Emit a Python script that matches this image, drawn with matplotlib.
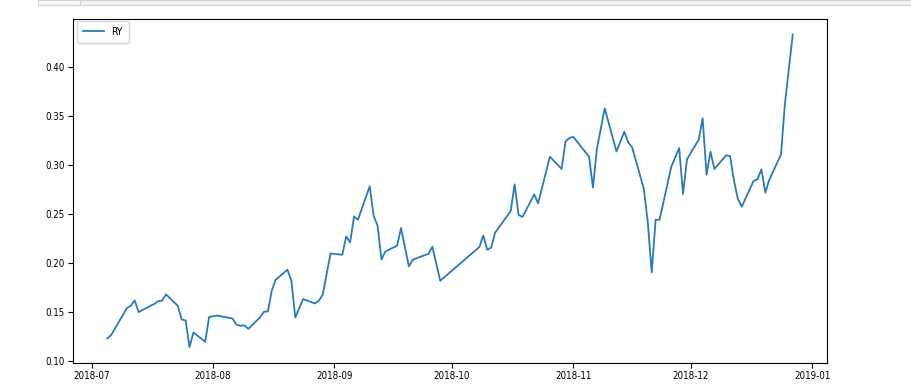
import matplotlib
matplotlib.use("Agg")
import matplotlib.pyplot as plt
import matplotlib.dates as mdates
from matplotlib.patches import Rectangle
import pandas as pd

dates = [
    "2018-07-05", "2018-07-06", "2018-07-10", "2018-07-11", "2018-07-12", "2018-07-13",
    "2018-07-16", "2018-07-17", "2018-07-18", "2018-07-19", "2018-07-20",
    "2018-07-23", "2018-07-24", "2018-07-25", "2018-07-26", "2018-07-27",
    "2018-07-30", "2018-07-31", "2018-08-02",
    "2018-08-06", "2018-08-07", "2018-08-08", "2018-08-09", "2018-08-10",
    "2018-08-13", "2018-08-14", "2018-08-15", "2018-08-16", "2018-08-17",
    "2018-08-20", "2018-08-21", "2018-08-22", "2018-08-24",
    "2018-08-27", "2018-08-28", "2018-08-29", "2018-08-31",
    "2018-09-03", "2018-09-04", "2018-09-05", "2018-09-06", "2018-09-07",
    "2018-09-10", "2018-09-11", "2018-09-12", "2018-09-13", "2018-09-14",
    "2018-09-17", "2018-09-18", "2018-09-20", "2018-09-21",
    "2018-09-25", "2018-09-26", "2018-09-28",
    "2018-10-08", "2018-10-09", "2018-10-10", "2018-10-11", "2018-10-12",
    "2018-10-16", "2018-10-17", "2018-10-18", "2018-10-19",
    "2018-10-22", "2018-10-23", "2018-10-26",
    "2018-10-29", "2018-10-30", "2018-10-31", "2018-11-01",
    "2018-11-05", "2018-11-06", "2018-11-07", "2018-11-09",
    "2018-11-12", "2018-11-14", "2018-11-15", "2018-11-16",
    "2018-11-19", "2018-11-20", "2018-11-21", "2018-11-22", "2018-11-23",
    "2018-11-26", "2018-11-28", "2018-11-29", "2018-11-30",
    "2018-12-03", "2018-12-04", "2018-12-05", "2018-12-06", "2018-12-07",
    "2018-12-10", "2018-12-11", "2018-12-12", "2018-12-13", "2018-12-14",
    "2018-12-17", "2018-12-18", "2018-12-19", "2018-12-20", "2018-12-21",
    "2018-12-24", "2018-12-25", "2018-12-27",
]

ry_values = [
    0.1228, 0.1263, 0.1539, 0.1562, 0.1617, 0.1498,
    0.1562, 0.1580, 0.1610, 0.1614, 0.1678,
    0.1562, 0.1422, 0.1412, 0.1140, 0.1290,
    0.1194, 0.1447, 0.1462,
    0.1432, 0.1368, 0.1358, 0.1362, 0.1326,
    0.1443, 0.1501, 0.1504, 0.1716, 0.1828,
    0.1931, 0.1818, 0.1443, 0.1631,
    0.1586, 0.1614, 0.1675, 0.2097,
    0.2084, 0.2271, 0.2210, 0.2476, 0.2442,
    0.2783, 0.2483, 0.2381, 0.2036, 0.2118,
    0.2176, 0.2357, 0.1965, 0.2033,
    0.2094, 0.2166, 0.1818,
    0.2163, 0.2281, 0.2135, 0.2156, 0.2309,
    0.2531, 0.2803, 0.2493, 0.2469,
    0.2701, 0.2609, 0.3086,
    0.2961, 0.3243, 0.3278, 0.3288,
    0.3086, 0.2772, 0.3165, 0.3580,
    0.3140, 0.3342, 0.3233, 0.3181,
    0.2756, 0.2414, 0.1903, 0.2442, 0.2442,
    0.2984, 0.3175, 0.2705, 0.3060,
    0.3260, 0.3478, 0.2902, 0.3137, 0.2961,
    0.3100, 0.3093, 0.2841, 0.2654, 0.2575,
    0.2838, 0.2854, 0.2957, 0.2718, 0.2848,
    0.3107, 0.3625, 0.4334,
]

series_label = "RY"

plt.rcParams['font.family'] = ['DejaVu Sans']
plt.rcParams['font.stretch'] = 'condensed'

fig = plt.figure(figsize=(9.12, 3.92), dpi=100)
ax = fig.add_axes([73 / 912, 1 - 362.7 / 392, (827 - 73) / 912, (362.7 - 19) / 392])

x = pd.to_datetime(dates)
ax.plot(x, ry_values, color="#2a7ab8", linewidth=1.3, label=series_label)

ax.xaxis.set_major_locator(mdates.MonthLocator())
ax.xaxis.set_major_formatter(mdates.DateFormatter("%Y-%m"))
ax.tick_params(labelsize=7, length=3.5, width=0.8, pad=2.5)
for s in ax.spines.values():
    s.set_linewidth(0.8)
ax.legend(loc="upper left", fontsize=7.5, handlelength=2.0, handletextpad=0.7,
          borderpad=0.6, borderaxespad=0,
          bbox_to_anchor=(77 / 912, 1 - 20.5 / 392), bbox_transform=fig.transFigure)

# UI strip at the top of the screenshot
fig.patches.append(Rectangle((80 / 912, 1 - 4.5 / 392), (912 - 80) / 912, 4.5 / 392,
                             transform=fig.transFigure, facecolor="#f3f3f3",
                             edgecolor="#d0d0d0", linewidth=0.8))
fig.patches.append(Rectangle((38 / 912, 1 - 4.5 / 392), (80 - 38) / 912, 4.5 / 392,
                             transform=fig.transFigure, facecolor="#f9f9f9",
                             edgecolor="#d0d0d0", linewidth=0.8))

fig.savefig("out.png", dpi=100)
